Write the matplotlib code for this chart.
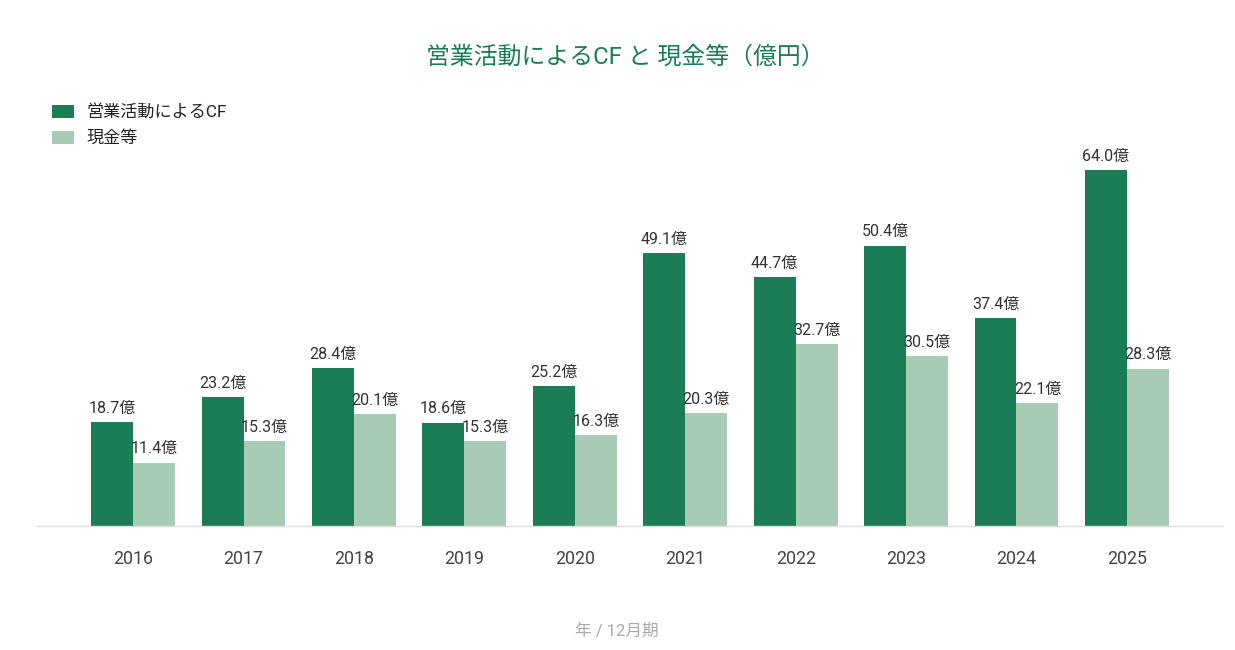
import matplotlib
matplotlib.use("Agg")
import matplotlib.pyplot as plt
import numpy as np

plt.rcParams['font.family'] = ['Roboto', 'Noto Sans CJK JP', 'DejaVu Sans']

years = ["2016", "2017", "2018", "2019", "2020", "2021", "2022", "2023", "2024", "2025"]
operating_cf = [18.7, 23.2, 28.4, 18.6, 25.2, 49.1, 44.7, 50.4, 37.4, 64.0]
cash = [11.4, 15.3, 20.1, 15.3, 16.3, 20.3, 32.7, 30.5, 22.1, 28.3]
series_names = ["営業活動によるCF", "現金等"]
title = "営業活動によるCF と 現金等（億円）"
xlabel = "年 / 12月期"

c_dark = "#1b7d55"
c_light = "#a8cbb5"

W, H = 1235, 650
fig = plt.figure(figsize=(W/100, H/100), dpi=100)
ax_left, ax_right, ax_top, ax_bot = 37, 1223, 100, 526
ax = fig.add_axes([ax_left/W, 1-ax_bot/H, (ax_right-ax_left)/W, (ax_bot-ax_top)/H])

x = np.arange(len(years))
bw = 0.38
b1 = ax.bar(x - bw/2, operating_cf, bw, color=c_dark, label=series_names[0])
b2 = ax.bar(x + bw/2, cash, bw, color=c_light, label=series_names[1])

for bars, vals in ((b1, operating_cf), (b2, cash)):
    for r, v in zip(bars, vals):
        ax.annotate(f"{v:.1f}億", (r.get_x() + r.get_width()/2, v),
                    xytext=(0, 4.5), textcoords="offset points",
                    ha="center", va="bottom", fontsize=11.5, color="#333333")

ax.set_xlim(-0.87, 9.87)
ax.set_ylim(0, (ax_bot-ax_top)/5.5625)
ax.set_xticks(x)
ax.set_xticklabels(years, fontsize=12.8, color="#444444")
ax.tick_params(axis='x', length=0, pad=17)
ax.set_yticks([])
for s in ["top", "right", "left"]:
    ax.spines[s].set_visible(False)
ax.spines["bottom"].set_color("#dddddd")
ax.spines["bottom"].set_linewidth(1)

fig.text(625/W, 1-57/H, title, ha="center", va="center", fontsize=17.2, color="#1b7d55")
fig.text(617/W, 1-631/H, xlabel, ha="center", va="center", fontsize=12, color="#aaaaaa")

leg = fig.legend(loc="upper left", bbox_to_anchor=(37/W, 1-89/H), frameon=False,
                 fontsize=12.3, handlelength=1.25, handleheight=0.75, handletextpad=0.75,
                 labelspacing=0.6)
for t in leg.get_texts():
    t.set_color("#222222")

fig.savefig("out.png", dpi=100)
